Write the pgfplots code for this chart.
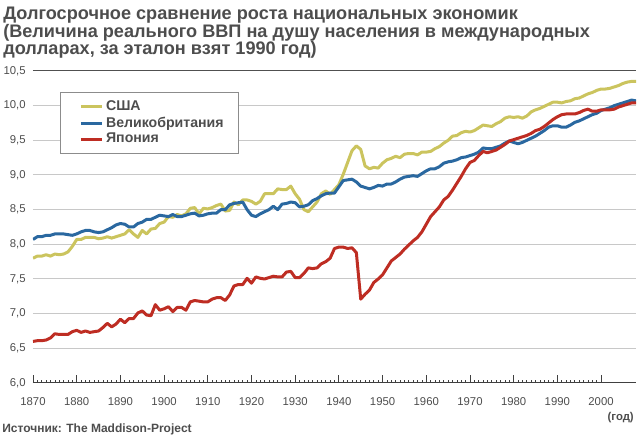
\documentclass[border=0pt]{standalone}
\usepackage{fontspec}
\setmainfont{Liberation Sans}
\usepackage{pgfplots}
\pgfplotsset{compat=1.18}
\usepackage{pgfplotstable}

\definecolor{usyel}{RGB}{203,196,94}
\definecolor{ukblue}{RGB}{42,104,160}
\definecolor{jpred}{RGB}{190,45,35}
\definecolor{txtgray}{RGB}{77,77,77}
\definecolor{gridgray}{RGB}{200,200,200}

% ln of GDP per capita, 1990 int. dollars
\pgfplotstableread{
year us uk jp
1870 7.80 8.07 6.60
1871 7.83 8.11 6.61
1872 7.83 8.11 6.61
1873 7.85 8.13 6.62
1874 7.83 8.13 6.65
1875 7.86 8.15 6.71
1876 7.85 8.15 6.70
1877 7.86 8.15 6.70
1878 7.89 8.14 6.70
1879 7.97 8.13 6.74
1880 8.07 8.15 6.76
1881 8.07 8.18 6.73
1882 8.10 8.20 6.75
1883 8.10 8.20 6.73
1884 8.10 8.18 6.74
1885 8.08 8.17 6.75
1886 8.09 8.18 6.80
1887 8.11 8.21 6.86
1888 8.09 8.24 6.81
1889 8.11 8.28 6.85
1890 8.13 8.30 6.92
1891 8.15 8.29 6.87
1892 8.21 8.25 6.93
1893 8.15 8.25 6.93
1894 8.10 8.30 7.01
1895 8.20 8.32 7.04
1896 8.15 8.36 6.98
1897 8.22 8.36 6.97
1898 8.23 8.39 7.13
1899 8.30 8.42 7.05
1900 8.32 8.41 7.07
1901 8.40 8.40 7.10
1902 8.39 8.43 7.03
1903 8.43 8.40 7.09
1904 8.41 8.40 7.09
1905 8.44 8.42 7.05
1906 8.52 8.44 7.17
1907 8.53 8.45 7.19
1908 8.44 8.41 7.18
1909 8.52 8.42 7.17
1910 8.51 8.44 7.17
1911 8.53 8.45 7.21
1912 8.56 8.45 7.23
1913 8.58 8.50 7.23
1914 8.48 8.50 7.19
1915 8.49 8.57 7.27
1916 8.61 8.59 7.40
1917 8.57 8.60 7.42
1918 8.64 8.61 7.42
1919 8.64 8.50 7.51
1920 8.62 8.42 7.44
1921 8.58 8.40 7.53
1922 8.62 8.44 7.51
1923 8.73 8.47 7.50
1924 8.73 8.50 7.52
1925 8.73 8.55 7.54
1926 8.80 8.50 7.53
1927 8.79 8.58 7.53
1928 8.79 8.59 7.60
1929 8.84 8.61 7.61
1930 8.73 8.60 7.52
1931 8.65 8.54 7.52
1932 8.50 8.55 7.58
1933 8.47 8.57 7.66
1934 8.54 8.63 7.65
1935 8.61 8.66 7.66
1936 8.73 8.70 7.72
1937 8.77 8.73 7.75
1938 8.72 8.74 7.80
1939 8.79 8.74 7.94
1940 8.86 8.83 7.96
1941 9.01 8.92 7.96
1942 9.18 8.93 7.94
1943 9.35 8.94 7.95
1944 9.42 8.90 7.88
1945 9.37 8.84 7.21
1946 9.13 8.82 7.28
1947 9.09 8.80 7.34
1948 9.11 8.82 7.45
1949 9.10 8.85 7.50
1950 9.17 8.84 7.56
1951 9.22 8.87 7.66
1952 9.24 8.87 7.76
1953 9.27 8.90 7.81
1954 9.25 8.94 7.86
1955 9.30 8.97 7.93
1956 9.31 8.98 7.99
1957 9.31 8.99 8.05
1958 9.29 8.98 8.10
1959 9.33 9.02 8.18
1960 9.33 9.06 8.29
1961 9.34 9.09 8.40
1962 9.38 9.09 8.47
1963 9.41 9.12 8.54
1964 9.46 9.17 8.64
1965 9.50 9.19 8.69
1966 9.56 9.20 8.78
1967 9.57 9.22 8.88
1968 9.61 9.25 8.98
1969 9.63 9.26 9.09
1970 9.62 9.28 9.18
1971 9.64 9.30 9.21
1972 9.68 9.33 9.28
1973 9.72 9.39 9.34
1974 9.71 9.38 9.32
1975 9.70 9.38 9.34
1976 9.74 9.40 9.36
1977 9.77 9.42 9.40
1978 9.82 9.46 9.44
1979 9.84 9.49 9.49
1980 9.83 9.47 9.51
1981 9.84 9.45 9.53
1982 9.82 9.47 9.55
1983 9.85 9.50 9.57
1984 9.91 9.53 9.60
1985 9.94 9.56 9.64
1986 9.96 9.60 9.66
1987 9.99 9.64 9.70
1988 10.02 9.69 9.75
1989 10.05 9.71 9.80
1990 10.05 9.71 9.84
1991 10.04 9.69 9.87
1992 10.06 9.69 9.88
1993 10.07 9.72 9.88
1994 10.10 9.76 9.88
1995 10.11 9.78 9.90
1996 10.14 9.81 9.93
1997 10.17 9.84 9.95
1998 10.19 9.87 9.92
1999 10.22 9.89 9.92
2000 10.24 9.93 9.94
2001 10.24 9.95 9.94
2002 10.25 9.97 9.94
2003 10.27 10.00 9.95
2004 10.29 10.02 9.98
2005 10.32 10.04 10.00
2006 10.34 10.06 10.02
2007 10.35 10.08 10.04
2008 10.35 10.07 10.04
}\gdp

\begin{document}
\begin{tikzpicture}[x=0.75pt,y=0.75pt]
\useasboundingbox (0,0) rectangle (640,435);

\node[anchor=north west, align=left, inner sep=0pt, text=txtgray,
      font=\fontsize{13.6}{13.2}\selectfont\bfseries] at (3,428)
  {Долгосрочное сравнение роста национальных экономик\\
   (Величина реального ВВП на душу населения в международных\\
   долларах, за эталон взят 1990 год)};

\begin{axis}[
  at={(24.75pt,39pt)}, anchor=south west,
  scale only axis, width=452.25pt, height=234pt,
  xmin=1870, xmax=2008, ymin=6, ymax=10.5,
  axis line style={draw=none},
  xtick={1870,1880,...,2000},
  minor x tick num=9,
  ytick={6,6.5,...,10.5},
  tick align=inside,
  xtick pos=lower,
  major x tick style={draw=black!75, line width=0.6pt},
  minor x tick style={draw=black!75, line width=0.5pt},
  major tick length=6pt, minor tick length=2.25pt,
  ytick style={draw=none},
  ymajorgrids,
  grid style={gridgray, line width=0.75pt},
  tick label style={font=\fontsize{8.5}{10}\selectfont, text=txtgray},
  xticklabel style={yshift=-7.5pt},
  yticklabel style={xshift=-2pt},
  /pgf/number format/assume math mode=true,
  x tick label style={/pgf/number format/set thousands separator={}},
  y tick label style={/pgf/number format/.cd, fixed, fixed zerofill, precision=1, use comma},
  legend cell align=left,
  legend image code/.code={\path (0pt,0pt); \draw[#1] (5.25pt,0pt) -- (21pt,0pt);},
  legend style={at={(0.0448,0.933)}, anchor=north west,
    draw=black!45, line width=0.6pt, fill=white,
    font=\fontsize{10.6}{12}\selectfont\bfseries, text=txtgray,
    inner xsep=9pt, inner ysep=4.5pt, row sep=-1pt},
  every axis plot/.append style={line width=2.25pt, line join=round},
]
\draw[gridgray!40!black, line width=0.75pt] (rel axis cs:0,1) -- (rel axis cs:1,1);
\draw[black!75, line width=0.75pt] (rel axis cs:0,0) -- (rel axis cs:1,0);

\addplot[usyel] table[x=year, y=us] {\gdp};
\addlegendentry{США}
\addplot[ukblue] table[x=year, y=uk] {\gdp};
\addlegendentry{Великобритания}
\addplot[jpred] table[x=year, y=jp] {\gdp};
\addlegendentry{Япония}
\end{axis}

\node[anchor=east, inner sep=0pt, text=txtgray, font=\fontsize{8.5}{10}\selectfont\bfseries]
  at (634,17) {(год)};
\node[anchor=base west, inner sep=0pt, text=txtgray, font=\fontsize{9}{10}\selectfont\bfseries]
  at (2,2.5) {Источник: The Maddison-Project};
\end{tikzpicture}
\end{document}
